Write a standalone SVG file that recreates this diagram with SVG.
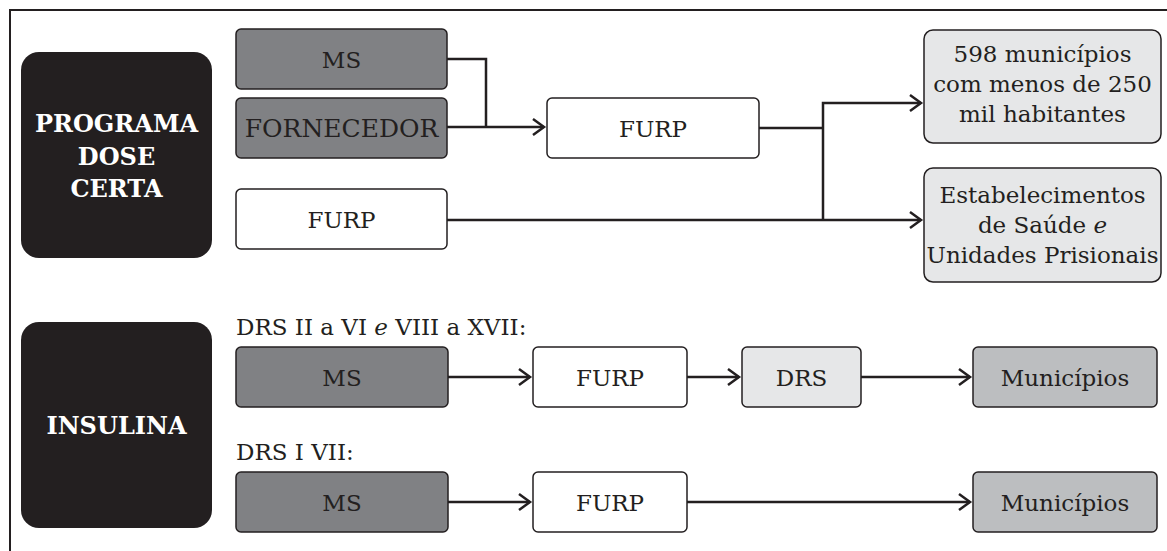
<svg xmlns="http://www.w3.org/2000/svg" width="1167" height="551" viewBox="0 0 1167 551">
<style>
  .bx { stroke: #231f20; stroke-width: 1.5; }
  .dark { fill: #808184; }
  .white { fill: #ffffff; }
  .light { fill: #e6e7e8; }
  .mid { fill: #bcbec0; }
  .blk { fill: #231f20; }
  .t { font-family: "DejaVu Serif", "Liberation Serif", serif; font-size: 23px; fill: #231f20; text-anchor: middle; }
  .tl { font-family: "DejaVu Serif", "Liberation Serif", serif; font-size: 23px; fill: #231f20; }
  .tb { font-family: "DejaVu Serif", "Liberation Serif", serif; font-size: 24px; font-weight: bold; fill: #ffffff; text-anchor: middle; }
  .c { fill: none; stroke: #231f20; stroke-width: 2.5; }
  .frame { fill: none; stroke: #231f20; stroke-width: 2; }
</style>
<defs>
  <marker id="arr" markerUnits="userSpaceOnUse" markerWidth="16" markerHeight="20" refX="13" refY="10" orient="auto">
    <path d="M2,2 L13,10 L2,18" fill="none" stroke="#231f20" stroke-width="2.5"/>
  </marker>
</defs>
<rect width="1167" height="551" fill="#ffffff"/>
<path class="frame" d="M10,551 L10,10 L1167,10"/>

<g id="programa">
  <rect x="21" y="52" width="191" height="206" rx="18" class="blk"/>
  <text class="tb" x="116.5" y="132">PROGRAMA</text>
  <text class="tb" x="116.5" y="165">DOSE</text>
  <text class="tb" x="116.5" y="197">CERTA</text>
</g>
<g id="ms1">
  <rect x="236" y="29" width="211" height="60" rx="5" class="bx dark"/>
  <text class="t" x="341.5" y="67.5">MS</text>
</g>
<g id="fornecedor">
  <rect x="236" y="98" width="211" height="60" rx="5" class="bx dark"/>
  <text class="t" x="341.5" y="137" style="font-size:25px">FORNECEDOR</text>
</g>
<g id="furp-a">
  <rect x="236" y="189" width="211" height="60" rx="5" class="bx white"/>
  <text class="t" x="341.5" y="227.5">FURP</text>
</g>
<g id="furp-b">
  <rect x="547" y="98" width="212" height="60" rx="5" class="bx white"/>
  <text class="t" x="653" y="136.5">FURP</text>
</g>
<g id="municipios598">
  <rect x="924" y="30" width="237" height="113" rx="9" class="bx light"/>
  <text class="t" x="1042.5" y="62">598 municípios</text>
  <text class="t" x="1042.5" y="92">com menos de 250</text>
  <text class="t" x="1042.5" y="122">mil habitantes</text>
</g>
<g id="estabelecimentos">
  <rect x="924" y="168" width="237" height="114" rx="9" class="bx light"/>
  <text class="t" x="1042.5" y="203">Estabelecimentos</text>
  <text class="t" x="1042.5" y="233">de Saúde <tspan font-style="italic">e</tspan></text>
  <text class="t" x="1042.5" y="263">Unidades Prisionais</text>
</g>

<g id="insulina">
  <rect x="21" y="322" width="191" height="206" rx="18" class="blk"/>
  <text class="tb" x="116.5" y="434">INSULINA</text>
</g>
<g id="label-drs1">
  <text class="tl" x="236" y="335">DRS II a VI <tspan font-style="italic">e</tspan> VIII a XVII:</text>
</g>
<g id="ms2">
  <rect x="236" y="347" width="212" height="60" rx="5" class="bx dark"/>
  <text class="t" x="342" y="385.5">MS</text>
</g>
<g id="furp2">
  <rect x="533" y="347" width="154" height="60" rx="5" class="bx white"/>
  <text class="t" x="610" y="385.5">FURP</text>
</g>
<g id="drs">
  <rect x="742" y="347" width="119" height="60" rx="5" class="bx light"/>
  <text class="t" x="801.5" y="385.5">DRS</text>
</g>
<g id="municipios2">
  <rect x="973" y="347" width="184" height="60" rx="5" class="bx mid"/>
  <text class="t" x="1065" y="385.5">Municípios</text>
</g>
<g id="label-drs2">
  <text class="tl" x="236" y="460">DRS I VII:</text>
</g>
<g id="ms3">
  <rect x="236" y="472" width="212" height="60" rx="5" class="bx dark"/>
  <text class="t" x="342" y="510.5">MS</text>
</g>
<g id="furp3">
  <rect x="533" y="472" width="154" height="60" rx="5" class="bx white"/>
  <text class="t" x="610" y="510.5">FURP</text>
</g>
<g id="municipios3">
  <rect x="973" y="472" width="184" height="60" rx="5" class="bx mid"/>
  <text class="t" x="1065" y="510.5">Municípios</text>
</g>

<g id="connectors">
  <path class="c" d="M447,59 L486,59 L486,127"/>
  <path class="c" d="M447,127 L544,127" marker-end="url(#arr)"/>
  <path class="c" d="M759,128 L823,128"/>
  <path class="c" d="M823,220 L823,103 L921,103" marker-end="url(#arr)"/>
  <path class="c" d="M447,220 L921,220" marker-end="url(#arr)"/>
  <path class="c" d="M448,377 L530,377" marker-end="url(#arr)"/>
  <path class="c" d="M687,377 L739,377" marker-end="url(#arr)"/>
  <path class="c" d="M861,377 L970,377" marker-end="url(#arr)"/>
  <path class="c" d="M448,502 L530,502" marker-end="url(#arr)"/>
  <path class="c" d="M687,502 L970,502" marker-end="url(#arr)"/>
</g>
</svg>
